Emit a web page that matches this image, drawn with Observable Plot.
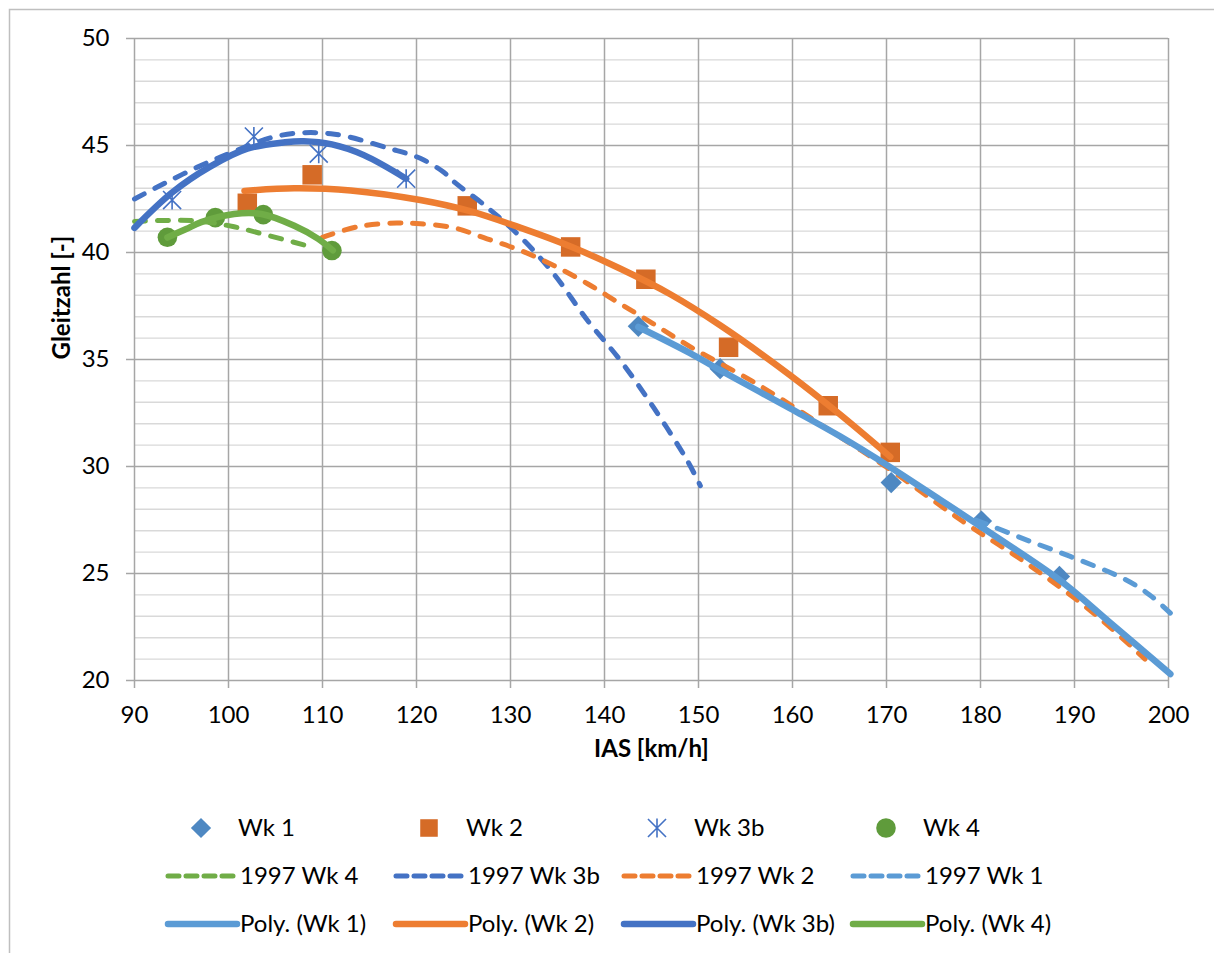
<!DOCTYPE html>
<html>
<head>
<meta charset="utf-8">
<script src="https://cdn.jsdelivr.net/npm/d3@7"></script>
<script src="https://cdn.jsdelivr.net/npm/@observablehq/plot@0.6"></script>
<style>
  body { margin: 0; background: #ffffff; }
  svg { display: block; }
</style>
</head>
<body>
<div id="chart"></div>
<script>
// ---------- axis ticks ----------
const xTicks = [90, 100, 110, 120, 130, 140, 150, 160, 170, 180, 190, 200];
const yTicks = [20, 25, 30, 35, 40, 45, 50];
const yMinor = [21, 22, 23, 24, 26, 27, 28, 29, 31, 32, 33, 34, 36, 37, 38, 39, 41, 42, 43, 44, 46, 47, 48, 49];

// ---------- measured points (IAS km/h, Gleitzahl) ----------
const wk1X = [143.6, 152.3, 170.5, 180.1, 188.4];
const wk1Y = [36.55, 34.57, 29.25, 27.45, 24.86];
const wk2X = [102.0, 108.9, 125.4, 136.4, 144.4, 153.2, 163.8, 170.4];
const wk2Y = [42.30, 43.63, 42.18, 40.26, 38.75, 35.57, 32.84, 30.66];
const wk3bX = [94.0, 102.7, 109.6, 118.9];
const wk3bY = [42.45, 45.42, 44.62, 43.45];
const wk4X = [93.5, 98.6, 103.7, 111.0];
const wk4Y = [40.71, 41.63, 41.77, 40.09];

// ---------- 1997 polars (dashed) ----------
const p1997wk4 = [[90, 41.45], [93.5, 41.5], [97.1, 41.46], [100.6, 41.2], [104.2, 40.8], [108.5, 40.3]];
const p1997wk3b = [[90, 42.5], [93.1, 43.21], [96.7, 43.99], [100.2, 44.65], [105.5, 45.47], [110.9, 45.55],
  [117.2, 44.85], [120.4, 44.4], [122.9, 43.75], [124.0, 43.3], [127.5, 42.12], [131.1, 40.71], [134.6, 39.0],
  [138.2, 36.82], [141.7, 34.95], [145.2, 32.77], [148.8, 30.28], [150.2, 29.1]];
const p1997wk2 = [[110.0, 40.71], [113.7, 41.2], [117.9, 41.38], [120.4, 41.34], [124.0, 41.15], [127.5, 40.64],
  [131.1, 40.09], [134.6, 39.39], [138.2, 38.54], [141.7, 37.6], [145.2, 36.67], [149.1, 35.6], [156.2, 33.86],
  [164.0, 31.68], [170.4, 29.85], [177.9, 27.5], [185.0, 25.45], [192.1, 23.12], [197.5, 21.0]];
const p1997wk1 = [[179.5, 27.5], [181.0, 27.25], [185.0, 26.55], [190.0, 25.72], [195.4, 24.72], [198.0, 24.0], [200.2, 23.15]];

// ---------- polynomial trendlines (solid) ----------
const polyWk1 = [[143.6, 36.52], [149.1, 35.3], [152.3, 34.5], [159.8, 32.7], [165.1, 31.4], [170.4, 29.97],
  [175.7, 28.45], [181.1, 26.88], [188.5, 24.67], [193.8, 22.7], [200.2, 20.3]];
const polyWk2 = [[101.7, 42.88], [107.0, 43.0], [113.0, 42.9], [120.4, 42.45], [125.7, 41.93], [131.1, 41.15],
  [136.4, 40.28], [141.7, 39.24], [147.0, 38.05], [152.3, 36.6], [159.8, 34.25], [165.0, 32.45], [170.4, 30.45]];
const polyWk3b = [[90, 41.15], [94, 42.8], [98, 44.0], [102, 44.85], [106, 45.15], [108, 45.2], [111, 45.05],
  [114.4, 44.55], [118.9, 43.45]];
const polyWk4 = [[93.5, 40.7], [95.5, 41.1], [97.1, 41.42], [100.6, 41.8], [103.5, 41.8], [107.0, 41.25],
  [109.5, 40.65], [111.1, 40.1]];

// ---------- legend labels ----------
const legendMarkers = ["Wk 1", "Wk 2", "Wk 3b", "Wk 4"];
const legendDashed = ["1997 Wk 4", "1997 Wk 3b", "1997 Wk 2", "1997 Wk 1"];
const legendPoly = ["Poly. (Wk 1)", "Poly. (Wk 2)", "Poly. (Wk 3b)", "Poly. (Wk 4)"];

// ---------- styles ----------
const FONT = "Lato, 'Open Sans', sans-serif";
const FS = 24;
const C1 = "#5B9BD5", C2 = "#ED7D31", C3 = "#4472C4", C4 = "#70AD47";
const M1 = "#4E88C2", M2 = "#D56B27", M4 = "#5F9B3B";

// custom Excel-like asterisk: vertical bar plus an X
const asteriskX = {
  draw(ctx, size) {
    const r = Math.sqrt(size / Math.PI);
    const d = r * 0.95;
    ctx.moveTo(0, -r); ctx.lineTo(0, r);
    ctx.moveTo(-d, -d); ctx.lineTo(d, d);
    ctx.moveTo(-d, d); ctx.lineTo(d, -d);
  }
};

const pts = (xs, ys) => xs.map((x, i) => ({x, y: ys[i]}));
const dashStyle = {strokeWidth: 5, strokeDasharray: "11,12", strokeLinecap: "round", curve: "catmull-rom"};
const polyStyle = {strokeWidth: 6.5, strokeLinecap: "round", curve: "catmull-rom"};
const R1 = 9.6, R2 = 11, R3 = 9.5, R4 = 9.8;

const chart = Plot.plot({
  width: 1214,
  height: 953,
  marginLeft: 134,
  marginRight: 46,
  marginTop: 38,
  marginBottom: 273,
  style: {fontFamily: FONT, fontSize: FS + "px", background: "#ffffff", color: "#000"},
  x: {domain: [90, 200]},
  y: {domain: [20, 50]},
  marks: [
    Plot.ruleY(yMinor, {stroke: "#D9D9D9", strokeWidth: 1.4}),
    Plot.ruleY(yTicks, {stroke: "#A6A6A6", strokeWidth: 1.5}),
    Plot.ruleX(xTicks, {stroke: "#A6A6A6", strokeWidth: 1.5}),
    Plot.axisY(yTicks, {tickSize: 8, tickPadding: 17, fontSize: FS, stroke: "#A6A6A6", strokeWidth: 1.5, fill: "#000", label: null}),
    Plot.axisX(xTicks, {tickSize: 8, tickPadding: 17, fontSize: FS, stroke: "#A6A6A6", strokeWidth: 1.5, fill: "#000", label: null}),
    Plot.text(["Gleitzahl [-]"], {frameAnchor: "left", dx: -72, rotate: -90, fontWeight: "bold", fontSize: FS, fill: "#000"}),
    Plot.text(["IAS [km/h]"], {frameAnchor: "bottom", dy: 76, fontWeight: "bold", fontSize: FS, fill: "#000"}),
    // measured markers
    Plot.dot(pts(wk1X, wk1Y), {x: "x", y: "y", symbol: "diamond2", r: R1, fill: M1}),
    Plot.dot(pts(wk2X, wk2Y), {x: "x", y: "y", symbol: "square", r: R2, fill: M2}),
    Plot.dot(pts(wk3bX, wk3bY), {x: "x", y: "y", symbol: asteriskX, r: R3, fill: "none", stroke: C3, strokeWidth: 1.6}),
    Plot.dot(pts(wk4X, wk4Y), {x: "x", y: "y", symbol: "circle", r: R4, fill: M4}),
    // 1997 dashed
    Plot.line(p1997wk4, {x: d => d[0], y: d => d[1], stroke: C4, ...dashStyle}),
    Plot.line(p1997wk3b, {x: d => d[0], y: d => d[1], stroke: C3, ...dashStyle}),
    Plot.line(p1997wk2, {x: d => d[0], y: d => d[1], stroke: C2, ...dashStyle}),
    Plot.line(p1997wk1, {x: d => d[0], y: d => d[1], stroke: C1, ...dashStyle}),
    // polynomial trendlines
    Plot.line(polyWk1, {x: d => d[0], y: d => d[1], stroke: C1, ...polyStyle}),
    Plot.line(polyWk2, {x: d => d[0], y: d => d[1], stroke: C2, ...polyStyle}),
    Plot.line(polyWk3b, {x: d => d[0], y: d => d[1], stroke: C3, ...polyStyle}),
    Plot.line(polyWk4, {x: d => d[0], y: d => d[1], stroke: C4, ...polyStyle})
  ]
});

document.getElementById("chart").appendChild(chart);

// ---------- outer chart frame + legend ----------
const svg = d3.select(chart);
svg.insert("rect", ":first-child")
  .attr("x", 9.5).attr("y", 9.5).attr("width", 1400).attr("height", 1200)
  .attr("fill", "none").attr("stroke", "#BFBFBF").attr("stroke-width", 1.5);

const colX = [165, 393, 621, 850];
const rowY = [828, 876, 924];
const lg = svg.append("g").attr("font-family", FONT).attr("font-size", FS)
  .attr("fill", "#000").attr("text-anchor", "start");

const mSymbols = [
  {type: d3.symbolDiamond2, r: R1 * 0.95, fill: M1, stroke: "none"},
  {type: d3.symbolSquare, r: R2 * 0.9, fill: M2, stroke: "none"},
  {type: asteriskX, r: R3, fill: "none", stroke: C3},
  {type: d3.symbolCircle, r: R4, fill: M4, stroke: "none"}
];
legendMarkers.forEach((lab, i) => {
  const s = mSymbols[i];
  lg.append("path")
    .attr("transform", `translate(${colX[i] + 36},${rowY[0]})`)
    .attr("d", d3.symbol(s.type, Math.PI * s.r * s.r)())
    .attr("fill", s.fill).attr("stroke", s.stroke).attr("stroke-width", 1.6);
  lg.append("text").attr("x", colX[i] + 73).attr("y", rowY[0]).attr("dy", "0.35em").text(lab);
});
const dashColors = [C4, C3, C2, C1];
legendDashed.forEach((lab, i) => {
  lg.append("line").attr("x1", colX[i] + 3).attr("x2", colX[i] + 72).attr("y1", rowY[1]).attr("y2", rowY[1])
    .attr("stroke", dashColors[i]).attr("stroke-width", 5).attr("stroke-dasharray", "11,7").attr("stroke-linecap", "round");
  lg.append("text").attr("x", colX[i] + 75).attr("y", rowY[1]).attr("dy", "0.35em").text(lab);
});
const polyColors = [C1, C2, C3, C4];
legendPoly.forEach((lab, i) => {
  lg.append("line").attr("x1", colX[i] + 3).attr("x2", colX[i] + 72).attr("y1", rowY[2]).attr("y2", rowY[2])
    .attr("stroke", polyColors[i]).attr("stroke-width", 6.5).attr("stroke-linecap", "round");
  lg.append("text").attr("x", colX[i] + 75).attr("y", rowY[2]).attr("dy", "0.35em").text(lab);
});
</script>
</body>
</html>
